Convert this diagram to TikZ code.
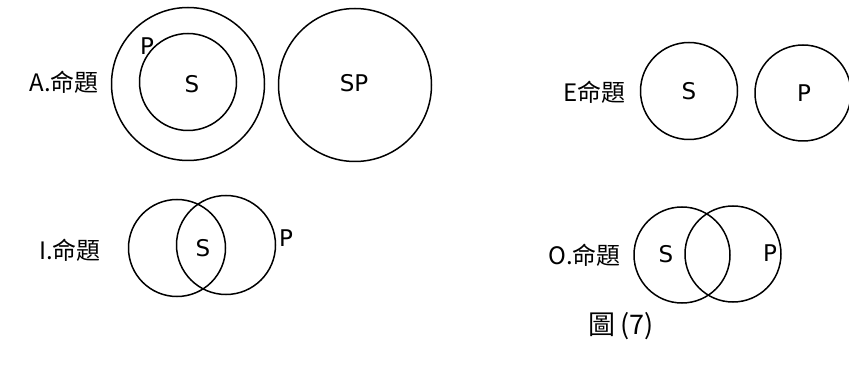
\documentclass[tikz,border=0pt]{standalone}
\usepackage{fontspec}
\setmainfont{DejaVu Sans}
\newfontfamily\cjk{Noto Sans CJK TC}
\begin{document}
\begin{tikzpicture}[x=1pt,y=-1pt,
  ring/.style={draw=black,line width=1.5pt,circle,inner sep=0pt},
  lett/.style={font=\fontsize{23}{25}\selectfont,inner sep=0pt},
  lab/.style={font=\fontsize{24}{26}\selectfont\cjk,inner sep=0pt,anchor=east}]
\useasboundingbox (0,0) rectangle (849,366);
% A
\node[ring,minimum size=153pt] (aP) at (188,84) {};
\node[ring,minimum size=97pt] (aS) at (188,82) {};
\node[lett] (aSt) at (192,84) {S};
\node[lett] (aPt) at (147,46) {P};
\node[ring,minimum size=153pt] (sp) at (355,85) {};
\node[lett] (spt) at (354,83) {SP};
\node[lab] (alab) at (99,82) {A.命題};
% E
\node[ring,minimum size=97pt] (eS) at (689,91) {};
\node[ring,minimum size=96pt] (eP) at (803,93) {};
\node[lett] (eSt) at (689,91) {S};
\node[lett] (ePt) at (804,93) {P};
\node[lab] (elab) at (626,92) {E命題};
% I
\node[ring,minimum size=97pt] (iS) at (177,248) {};
\node[ring,minimum size=99pt] (iP) at (226,245) {};
\node[lett] (iSt) at (203,248) {S};
\node[lett] (iPt) at (286,238) {P};
\node[lab] (ilab) at (101,250) {I.命題};
% O
\node[ring,minimum size=96pt] (oS) at (682,255) {};
\node[ring,minimum size=96pt] (oP) at (733,254) {};
\node[lett] (oSt) at (666,254) {S};
\node[lett] (oPt) at (770,253) {P};
\node[lab] (olab) at (621,255) {O.命題};
% caption
\node[font=\fontsize{27}{29}\selectfont\cjk,inner sep=0pt] (cap) at (621,326) {圖\,(7)};
\end{tikzpicture}
\end{document}
